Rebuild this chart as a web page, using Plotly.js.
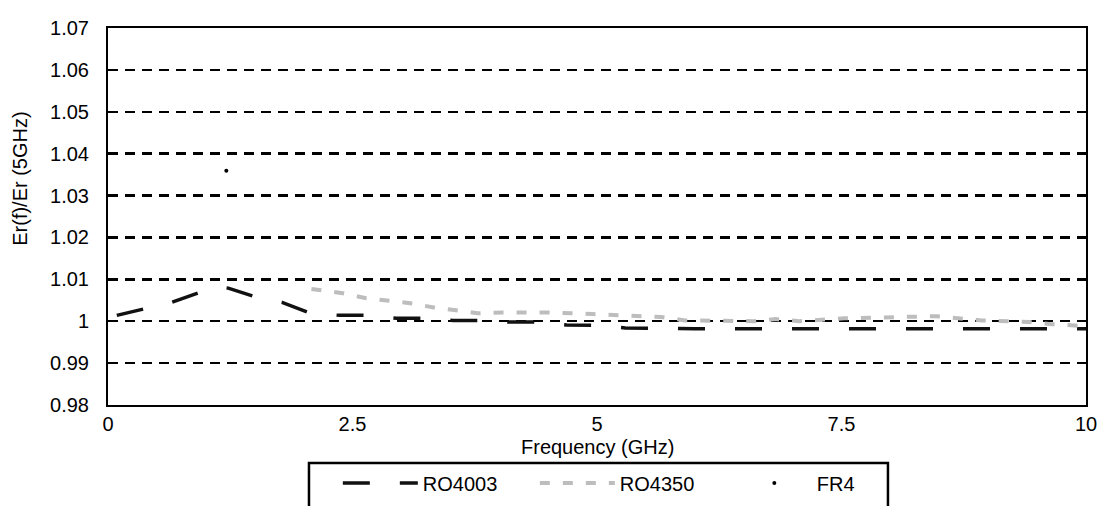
<!DOCTYPE html>
<html>
<head>
<meta charset="utf-8">
<script src="https://cdn.plot.ly/plotly-3.0.1.min.js"></script>
<style>html,body{margin:0;padding:0;background:#fff;}#chart{width:1099px;height:506px;}</style>
</head>
<body>
<div id="chart"></div>
<script>
// ---- data ----
const ro4003Freq = [0.09, 0.38, 0.65, 0.94, 1.10, 1.23, 1.52, 1.78, 2.07, 2.37, 2.65, 2.95, 3.24, 3.53, 3.82, 4.11, 4.40, 4.69, 4.98, 5.29, 5.56, 6.00, 6.50, 7.00, 7.50, 8.00, 8.50, 9.00, 9.50, 10.00];
const ro4003Ratio = [1.0014, 1.0031, 1.0045, 1.0069, 1.0082, 1.0079, 1.0057, 1.0045, 1.0019, 1.0014, 1.0014, 1.0007, 1.0007, 1.0002, 1.0002, 0.9998, 0.9998, 0.9991, 0.9990, 0.9984, 0.9983, 0.9982, 0.9982, 0.9982, 0.9982, 0.9982, 0.9982, 0.9982, 0.9982, 0.9982];

const ro4350Freq = [2.08, 2.40, 2.64, 2.86, 3.09, 3.33, 3.57, 3.78, 4.04, 4.49, 4.95, 5.42, 5.66, 5.90, 6.36, 6.61, 6.83, 7.07, 7.53, 8.01, 8.47, 8.93, 9.16, 9.42, 9.65, 10.00];
const ro4350Ratio = [1.0077, 1.0067, 1.0055, 1.0050, 1.0043, 1.0033, 1.0026, 1.0019, 1.0021, 1.0021, 1.0017, 1.0012, 1.0010, 1.0002, 1.0002, 1.0000, 1.0005, 1.0000, 1.0007, 1.0010, 1.0012, 1.0002, 1.0000, 0.9998, 0.9993, 0.9988];

const fr4Freq = [1.21];
const fr4Ratio = [1.0359];

const xTickVals = [0, 2.5, 5, 7.5, 10];
const xTickText = ['0', '2.5', '5', '7.5', '10'];
const yTickVals = [0.98, 0.99, 1.00, 1.01, 1.02, 1.03, 1.04, 1.05, 1.06, 1.07];
const yTickText = ['0.98', '0.99', '1', '1.01', '1.02', '1.03', '1.04', '1.05', '1.06', '1.07'];

const seriesNames = ['RO4003', 'RO4350', 'FR4'];
const xTitle = 'Frequency (GHz)';
const yTitle = 'Er(f)/Er (5GHz)';

const FONT = 'Liberation Sans, Arial, sans-serif';

const traces = [
  {
    x: ro4003Freq, y: ro4003Ratio, name: seriesNames[0], type: 'scatter', mode: 'lines',
    line: {color: '#111111', width: 3.5, dash: '27px,30px'}
  },
  {
    x: ro4350Freq, y: ro4350Ratio, name: seriesNames[1], type: 'scatter', mode: 'lines',
    line: {color: '#bdbdbd', width: 4, dash: '10px,13px'}
  },
  {
    x: fr4Freq, y: fr4Ratio, name: seriesNames[2], type: 'scatter', mode: 'markers',
    marker: {color: '#000000', size: 4}
  }
];

const layout = {
  width: 1099, height: 506,
  margin: {l: 108, r: 13, t: 28, b: 101, autoexpand: false},
  paper_bgcolor: '#ffffff', plot_bgcolor: '#ffffff',
  font: {family: FONT, color: '#000000', size: 20},
  showlegend: true,
  xaxis: {
    range: [0, 10], tickvals: xTickVals, ticktext: xTickText,
    showgrid: false, zeroline: false, showline: true, mirror: true,
    linecolor: '#000000', linewidth: 2, ticks: '', ticklen: 0, automargin: false,
    tickfont: {family: FONT, size: 20, color: '#000'},
    ticklabelstandoff: 0
  },
  yaxis: {
    range: [0.98, 1.07], tickvals: yTickVals, ticktext: yTickText,
    showgrid: true, gridcolor: '#000000', gridwidth: 2.5, griddash: '10px,7px',
    zeroline: false, showline: true, mirror: true,
    linecolor: '#000000', linewidth: 2, ticks: '', automargin: false,
    tickfont: {family: FONT, size: 20, color: '#000'},
    ticklabelstandoff: 13
  },
  annotations: [
    {
      text: yTitle, textangle: -90, showarrow: false,
      xref: 'paper', yref: 'paper', x: -0.09, y: 0.60, xanchor: 'center', yanchor: 'middle',
      font: {family: FONT, size: 20, color: '#000'}
    },
    {
      text: xTitle, showarrow: false,
      xref: 'paper', yref: 'paper', x: 0.5, y: -0.111, xanchor: 'center', yanchor: 'middle',
      font: {family: FONT, size: 20, color: '#000'}
    }
  ],
  legend: {
    orientation: 'h', x: 0.235, xanchor: 'left', y: -0.155, yanchor: 'top',
    bgcolor: 'rgba(0,0,0,0)', borderwidth: 0,
    itemwidth: 75, entrywidth: 107, entrywidthmode: 'pixels',
    font: {family: FONT, size: 20, color: '#000'}
  },
  shapes: [{
    type: 'rect', xref: 'paper', yref: 'paper',
    x0: 0.2055, x1: 0.7975, y0: -0.1538, y1: -0.33,
    line: {color: '#000000', width: 2.5}, fillcolor: 'rgba(0,0,0,0)', layer: 'above'
  }]
};

Plotly.newPlot('chart', traces, layout, {displayModeBar: false, staticPlot: true});
</script>
</body>
</html>
